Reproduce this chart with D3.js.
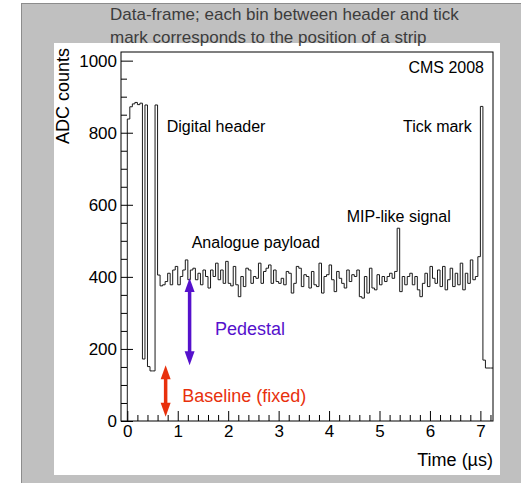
<!DOCTYPE html>
<html>
<head>
<meta charset="utf-8">
<script src="https://cdn.jsdelivr.net/npm/d3@7"></script>
<style>
body { margin: 0; background: #fff; }
text { font-family: "Liberation Sans", Arial, sans-serif; }
</style>
</head>
<body>
<svg width="521" height="483"></svg>
<script>
// histogram bins, 50 ns each, first bin starts at t = 0
var binWidth = 0.05;
var headerValues = [838, 872, 880, 884, 878, 882, 172, 877, 151, 139, 139, 877];
var payloadValues = [
  405, 375, 378, 387, 410, 378, 419, 429, 378, 401,
  419, 447, 392, 419, 424, 392, 410, 378, 419, 401,
  369, 419, 401, 438, 392, 419, 382, 443, 382, 375,
  429, 378, 345, 401, 373, 424, 419, 382, 401, 396,
  438, 382, 415, 424, 433, 382, 419, 387, 382, 396,
  378, 415, 410, 355, 382, 429, 424, 373, 406, 401,
  369, 415, 378, 373, 438, 355, 401, 406, 433, 392,
  359, 415, 396, 382, 369, 419, 387, 406, 401, 419,
  345, 341, 401, 355, 424, 369, 364, 406, 378, 401,
  387, 401, 410, 396, 415, 535, 359, 401, 378, 401,
  410, 378, 401, 364, 345, 382, 410, 373, 429, 396,
  382, 419, 373, 429, 364, 392, 424, 373, 410, 378,
  438, 364, 410, 382, 447, 392, 401, 456
];
var trailerValues = [873, 169, 147, 147, 147];

var xTicks = [0, 1, 2, 3, 4, 5, 6, 7];
var yTicks = [0, 200, 400, 600, 800, 1000];

// arrows: [time, from, to] in axis units
var pedestalArrow = [1.235, 397, 155];
var baselineArrow = [0.76, 155, 12];

var svg = d3.select('svg');

// background panels
svg.append('rect').attr('x', 21.5).attr('y', 3.5).attr('width', 510).attr('height', 490)
  .attr('fill', '#c0c0c0').attr('stroke', '#8c8c8c');
svg.append('rect').attr('x', 54).attr('y', 43).attr('width', 446).attr('height', 432)
  .attr('fill', '#fff');

var fLeft = 121, fRight = 493, fTop = 52, fBottom = 421;

var x = d3.scaleLinear().domain([-0.125, 7.25]).range([fLeft, fRight]);
var y = d3.scaleLinear().domain([0, 1024]).range([fBottom, fTop]);

// build step points from the bins
var allValues = headerValues.concat(payloadValues, trailerValues);
var pts = [{t: 0, v: 0}];
allValues.forEach(function(v, i) { pts.push({t: i * binWidth, v: v}); });
pts.push({t: allValues.length * binWidth, v: allValues[allValues.length - 1]});

var line = d3.line()
  .x(function(d) { return x(Math.min(d.t, 7.25)); })
  .y(function(d) { return y(d.v); })
  .curve(d3.curveStepAfter);

svg.append('path').datum(pts)
  .attr('d', line)
  .attr('fill', 'none')
  .attr('stroke', '#1a1a1a')
  .attr('stroke-width', 1);

// frame
svg.append('rect').attr('x', fLeft).attr('y', fTop)
  .attr('width', fRight - fLeft).attr('height', fBottom - fTop)
  .attr('fill', 'none').attr('stroke', '#000').attr('stroke-width', 1);

// axes with ticks inside
var xMinor = d3.range(0, 7.21, 0.2).filter(function(t) { return Math.abs(t - Math.round(t)) > 0.01; });
svg.append('g').attr('transform', 'translate(0,' + fBottom + ')')
  .call(d3.axisBottom(x).tickValues(xMinor).tickSize(-6).tickFormat('').tickSizeOuter(0))
  .call(function(g) { g.select('.domain').remove(); });
var xAxis = svg.append('g').attr('transform', 'translate(0,' + fBottom + ')')
  .call(d3.axisBottom(x).tickValues(xTicks).tickSize(-10).tickSizeOuter(0).tickPadding(4));
xAxis.select('.domain').remove();
xAxis.selectAll('text').attr('font-size', 17).attr('font-family', 'Liberation Sans').attr('fill', '#000');

var yMinor = d3.range(0, 1001, 50).filter(function(v) { return v % 200 !== 0; });
svg.append('g').attr('transform', 'translate(' + fLeft + ',0)')
  .call(d3.axisLeft(y).tickValues(yMinor).tickSize(-6).tickFormat('').tickSizeOuter(0))
  .call(function(g) { g.select('.domain').remove(); });
var yAxis = svg.append('g').attr('transform', 'translate(' + fLeft + ',0)')
  .call(d3.axisLeft(y).tickValues(yTicks).tickSize(-12).tickSizeOuter(0).tickPadding(4).tickFormat(d3.format('d')));
yAxis.select('.domain').remove();
yAxis.selectAll('text').attr('font-size', 17).attr('font-family', 'Liberation Sans').attr('fill', '#000');

// axis titles
svg.append('text').attr('x', fRight).attr('y', 466).attr('text-anchor', 'end')
  .attr('font-size', 18).text('Time (\u00b5s)');
svg.append('text').attr('transform', 'translate(69,' + (fTop - 4) + ') rotate(-90)')
  .attr('text-anchor', 'end').attr('font-size', 18).text('ADC counts');

// caption above the panel
svg.append('text').attr('x', 110).attr('y', 19.5).attr('font-size', 17).attr('fill', '#3c3c3c')
  .text('Data-frame; each bin between header and tick');
svg.append('text').attr('x', 110).attr('y', 42.5).attr('font-size', 17).attr('fill', '#3c3c3c')
  .text('mark corresponds to the position of a strip');

// annotations
svg.append('text').attr('x', 484).attr('y', 73).attr('text-anchor', 'end').attr('font-size', 16).text('CMS 2008');
svg.append('text').attr('x', 166.7).attr('y', 131.7).attr('font-size', 16).text('Digital header');
svg.append('text').attr('x', 471.7).attr('y', 131.7).attr('text-anchor', 'end').attr('font-size', 16).text('Tick mark');
svg.append('text').attr('x', 346.7).attr('y', 221.7).attr('font-size', 16).text('MIP-like signal');
svg.append('text').attr('x', 191.7).attr('y', 248).attr('font-size', 16).text('Analogue payload');
svg.append('text').attr('x', 215).attr('y', 335).attr('font-size', 18).attr('fill', '#5511cc').text('Pedestal');
svg.append('text').attr('x', 182.3).attr('y', 401.7).attr('font-size', 18).attr('fill', '#e8300c').text('Baseline (fixed)');

var drawArrow = function(a, color) {
  var ax = x(a[0]), y1 = y(a[1]), y2 = y(a[2]);
  var hw = 5, hl = 14;
  svg.append('line').attr('x1', ax).attr('x2', ax)
    .attr('y1', y1 + hl - 2).attr('y2', y2 - hl + 2)
    .attr('stroke', color).attr('stroke-width', 3.5);
  svg.append('path').attr('d', 'M' + ax + ',' + y2 + 'L' + (ax - hw) + ',' + (y2 - hl) + 'L' + (ax + hw) + ',' + (y2 - hl) + 'Z')
    .attr('fill', color);
  svg.append('path').attr('d', 'M' + ax + ',' + y1 + 'L' + (ax - hw) + ',' + (y1 + hl) + 'L' + (ax + hw) + ',' + (y1 + hl) + 'Z')
    .attr('fill', color);
};
drawArrow(pedestalArrow, '#5511cc');
drawArrow(baselineArrow, '#e8300c');
</script>
</body>
</html>
